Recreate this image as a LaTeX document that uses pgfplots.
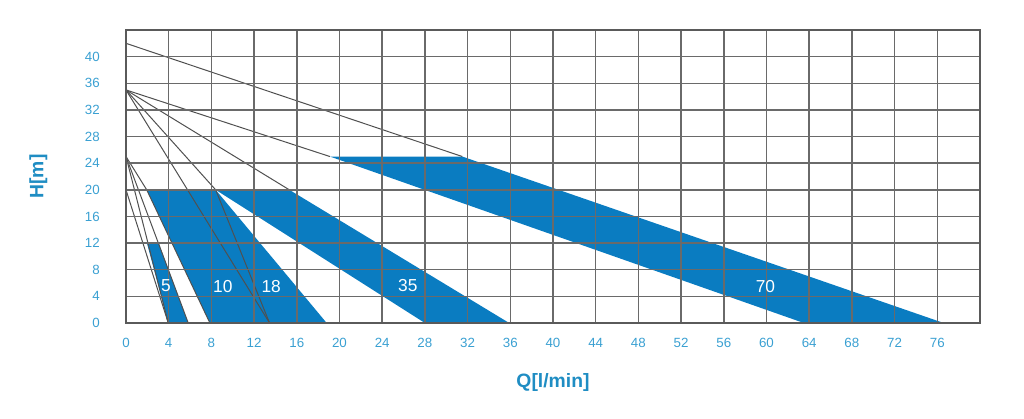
\documentclass[border=0pt]{standalone}
\usepackage{pgfplots}
\pgfplotsset{compat=1.18}
\usepackage{fontspec}
\setmainfont{Liberation Sans}
\definecolor{bandblue}{HTML}{0A7CC1}
\definecolor{ticblue}{HTML}{3AA0D2}
\definecolor{labblue}{HTML}{1F8DC3}
\definecolor{gridgray}{HTML}{6A6A6A}
\definecolor{bordergray}{HTML}{5A5A5A}
\definecolor{linegray}{HTML}{505050}
\begin{document}
\begin{tikzpicture}
\path[use as bounding box] (-94.5pt,-71.25pt) rectangle (673.5pt,242.25pt);
\begin{axis}[
  at={(0,0)}, anchor=south west,
  scale only axis, width=640.5pt, height=219.75pt,
  xmin=0, xmax=80, ymin=0, ymax=44,
  xtick={0,4,...,76}, ytick={0,4,...,40},
  grid=major, major grid style={draw=gridgray, line width=1.1pt},
  major tick length=0pt,
  axis line style={draw=bordergray, line width=1.5pt},
  axis on top,
  /pgf/number format/assume math mode=true,
  ticklabel style={font=\fontsize{10}{12}\selectfont, text=ticblue},
  xticklabel style={anchor=north, inner sep=0pt, yshift=-11.25pt},
  yticklabel style={anchor=east, inner sep=0pt, xshift=-19.5pt},
  xlabel={Q[l/min]}, ylabel={H[m]},
  xlabel style={at={(axis description cs:0.5,-0.203)}, anchor=center, font=\bfseries\fontsize{14.5}{16}\selectfont, text=labblue},
  ylabel style={at={(axis description cs:-0.1027,0.5)}, anchor=center, font=\bfseries\fontsize{14.5}{16}\selectfont, text=labblue},
]
% blue operating bands
\addplot[fill=bandblue, draw=none] coordinates {(1.96,12) (3.06,12) (5.83,0) (3.96,0)} --cycle;
\addplot[fill=bandblue, draw=none] coordinates {(1.94,20) (8.4,20) (18.8,0) (7.86,0)} --cycle;
\addplot[fill=bandblue, draw=none] coordinates {(8.4,20) (15.3,20) (35.9,0) (28.0,0)} --cycle;
\addplot[fill=bandblue, draw=none] coordinates {(19.1,25) (31.5,25) (76.6,0) (63.5,0)} --cycle;
% thin pump curves
\addplot[draw=linegray, line width=0.75pt] coordinates {(0,42) (31.5,25)};
\addplot[draw=linegray, line width=0.75pt] coordinates {(0,35) (19.1,25)};
\addplot[draw=linegray, line width=0.75pt] coordinates {(0,35) (15.3,20)};
\addplot[draw=linegray, line width=0.75pt] coordinates {(0,35) (8.4,20) (13.45,0)};
\addplot[draw=linegray, line width=0.75pt] coordinates {(0,35) (13.45,0)};
\addplot[draw=linegray, line width=0.75pt] coordinates {(0,25) (3.96,0)};
\addplot[draw=linegray, line width=0.75pt] coordinates {(0,20) (3.96,0)};
\addplot[draw=linegray, line width=0.75pt] coordinates {(0,25) (5.83,0)};
\addplot[draw=linegray, line width=0.75pt] coordinates {(0,25) (1.94,20) (7.86,0)};
% label positions
\coordinate (l5) at (axis cs:3.75,5.6);
\coordinate (l10) at (axis cs:9.07,5.45);
\coordinate (l18) at (axis cs:13.6,5.45);
\coordinate (l35) at (axis cs:26.4,5.6);
\coordinate (l70) at (axis cs:59.9,5.45);
\end{axis}
\begin{scope}[every node/.style={text=white, font=\fontsize{13}{15}\selectfont}]
\node at (l5) {5};
\node at (l10) {10};
\node at (l18) {18};
\node at (l35) {35};
\node at (l70) {70};
\end{scope}
\end{tikzpicture}
\end{document}
